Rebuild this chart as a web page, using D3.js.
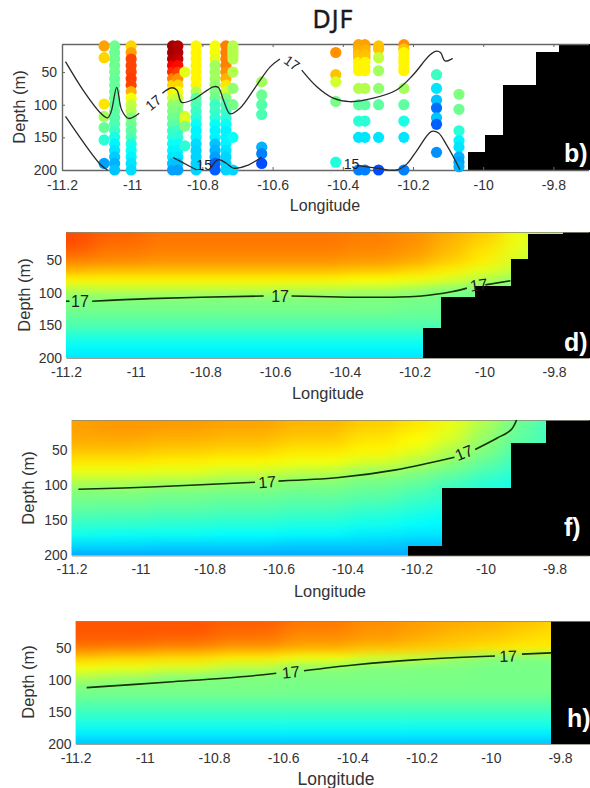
<!DOCTYPE html>
<html>
<head>
<meta charset="utf-8">
<script src="https://cdn.jsdelivr.net/npm/d3@7"></script>
<style>
  html, body { margin: 0; padding: 0; background: #fff; }
  text { font-family: "Liberation Sans", Arial, sans-serif; }
</style>
</head>
<body>
<div id="chart"></div>
<script>
// Data
var lonTicks = [-11.2, -11, -10.8, -10.6, -10.4, -10.2, -10, -9.8];
var depthTicks = [50, 100, 150, 200];

// Temperature -> jet colours
var tempStops = [14, 14.75, 16.25, 17.75, 19.25, 20];
var jetColors = ['#00007f', '#0000ff', '#00ffff', '#ffff00', '#ff0000', '#7f0000'];

// Model sections, one row per depth, one column per longitude
var fieldLons = [-11.2, -11.05, -10.9, -10.7, -10.5, -10.3, -10.2, -10.1, -10, -9.9, -9.8, -9.7];
var fieldDepths = [7, 20, 35, 50, 65, 80, 95, 110, 125, 140, 155, 170, 185, 200];

var fieldD = [
  [18.8, 18.65, 18.55, 18.55, 18.55, 18.5, 18.4, 18.25, 18.05, 17.65, 17.2, 17.2],
  [18.8, 18.65, 18.55, 18.55, 18.55, 18.5, 18.4, 18.2, 18, 17.65, 17.2, 17.2],
  [18.7, 18.55, 18.5, 18.5, 18.5, 18.45, 18.35, 18.15, 17.9, 17.6, 17.2, 17.2],
  [18.5, 18.45, 18.4, 18.4, 18.4, 18.35, 18.25, 18.05, 17.85, 17.5, 17.2, 17.2],
  [18.2, 18.15, 18.15, 18.15, 18.15, 18.1, 18, 17.85, 17.6, 17.4, 17.2, 17.2],
  [17.8, 17.8, 17.8, 17.8, 17.8, 17.75, 17.7, 17.55, 17.3, 17.1, 17, 17],
  [17.35, 17.4, 17.4, 17.4, 17.35, 17.3, 17.2, 17.05, 16.95, 16.9, 16.9, 16.9],
  [17, 17.02, 17.02, 17, 17, 16.98, 16.95, 16.9, 16.85, 16.85, 16.85, 16.85],
  [16.95, 16.95, 16.95, 16.95, 16.95, 16.95, 16.9, 16.9, 16.85, 16.85, 16.85, 16.85],
  [16.8, 16.8, 16.8, 16.8, 16.8, 16.8, 16.8, 16.8, 16.8, 16.8, 16.8, 16.8],
  [16.65, 16.65, 16.65, 16.65, 16.65, 16.65, 16.65, 16.65, 16.65, 16.65, 16.65, 16.65],
  [16.4, 16.4, 16.4, 16.4, 16.4, 16.4, 16.4, 16.4, 16.4, 16.4, 16.4, 16.4],
  [16.22, 16.22, 16.22, 16.22, 16.22, 16.22, 16.22, 16.22, 16.22, 16.22, 16.22, 16.22],
  [16.1, 16.1, 16.1, 16.1, 16.1, 16.1, 16.1, 16.1, 16.1, 16.1, 16.1, 16.1]
];

var fieldF = [
  [18.3, 18.35, 18.35, 18.3, 18.2, 18.05, 17.9, 17.65, 17.3, 16.9, 16.6, 16.5],
  [18.3, 18.35, 18.3, 18.25, 18.15, 18, 17.85, 17.6, 17.2, 16.85, 16.6, 16.5],
  [18.25, 18.25, 18.2, 18.15, 18.05, 17.9, 17.75, 17.5, 17.1, 16.8, 16.6, 16.5],
  [18.1, 18.1, 18.05, 18, 17.9, 17.8, 17.6, 17.3, 17, 16.7, 16.6, 16.5],
  [17.9, 17.9, 17.85, 17.8, 17.7, 17.55, 17.35, 17.1, 16.85, 16.6, 16.5, 16.5],
  [17.65, 17.65, 17.6, 17.5, 17.4, 17.2, 17.05, 16.9, 16.7, 16.5, 16.4, 16.4],
  [17.3, 17.3, 17.25, 17.15, 17.05, 16.95, 16.85, 16.7, 16.5, 16.4, 16.4, 16.4],
  [17.02, 17.02, 16.98, 16.95, 16.9, 16.82, 16.7, 16.55, 16.45, 16.4, 16.4, 16.4],
  [16.9, 16.9, 16.85, 16.8, 16.75, 16.68, 16.55, 16.45, 16.4, 16.4, 16.4, 16.4],
  [16.75, 16.72, 16.7, 16.65, 16.6, 16.5, 16.4, 16.3, 16.3, 16.3, 16.3, 16.3],
  [16.55, 16.55, 16.5, 16.48, 16.42, 16.35, 16.25, 16.2, 16.2, 16.2, 16.2, 16.2],
  [16.35, 16.3, 16.3, 16.25, 16.22, 16.15, 16.1, 16.1, 16.1, 16.1, 16.1, 16.1],
  [16.05, 16.05, 16, 16, 15.95, 15.95, 15.9, 15.9, 15.9, 15.9, 15.9, 15.9],
  [15.75, 15.75, 15.75, 15.75, 15.75, 15.75, 15.75, 15.75, 15.75, 15.75, 15.75, 15.75]
];

var fieldH = [
  [18.75, 18.75, 18.75, 18.7, 18.55, 18.4, 18.3, 18.25, 18.2, 18.1, 18, 18],
  [18.75, 18.75, 18.75, 18.65, 18.5, 18.4, 18.3, 18.2, 18.15, 18.05, 17.95, 17.95],
  [18.7, 18.7, 18.65, 18.55, 18.4, 18.3, 18.2, 18.1, 18.05, 17.95, 17.9, 17.9],
  [18.5, 18.45, 18.4, 18.3, 18.2, 18.1, 18.05, 18, 17.9, 17.85, 17.85, 17.85],
  [18.05, 18, 17.95, 17.85, 17.7, 17.5, 17.4, 17.2, 17.05, 17, 17, 17],
  [17.7, 17.65, 17.55, 17.35, 17.1, 17, 16.98, 16.98, 16.95, 16.95, 16.95, 16.95],
  [17.3, 17.2, 17.05, 17, 16.98, 16.98, 16.98, 16.98, 16.95, 16.95, 16.95, 16.95],
  [17, 16.98, 16.98, 16.98, 16.95, 16.95, 16.95, 16.95, 16.95, 16.95, 16.95, 16.95],
  [16.9, 16.9, 16.9, 16.9, 16.9, 16.9, 16.9, 16.9, 16.9, 16.9, 16.9, 16.9],
  [16.72, 16.72, 16.72, 16.72, 16.72, 16.72, 16.72, 16.72, 16.72, 16.72, 16.72, 16.72],
  [16.55, 16.55, 16.55, 16.55, 16.55, 16.55, 16.55, 16.55, 16.55, 16.55, 16.55, 16.55],
  [16.38, 16.38, 16.38, 16.38, 16.38, 16.38, 16.38, 16.38, 16.38, 16.38, 16.38, 16.38],
  [16.15, 16.15, 16.15, 16.15, 16.15, 16.15, 16.15, 16.15, 16.15, 16.15, 16.15, 16.15],
  [15.9, 15.9, 15.9, 15.9, 15.9, 15.9, 15.9, 15.9, 15.9, 15.9, 15.9, 15.9]
];

// Seabed steps: longitude where each step starts, depth of its top
var shelfLonB = [-10.042, -9.995, -9.945, -9.85, -9.783];
var shelfDepthB = [172, 146, 70, 19, 7];
var shelfLonD = [-10.176, -10.124, -10.027, -9.923, -9.875, -9.774];
var shelfDepthD = [154, 106, 89, 49, 10, 7];
var shelfLonF = [-10.225, -10.125, -9.925, -9.824];
var shelfDepthF = [186, 104, 40, 7];
var shelfLonH = [-9.825];
var shelfDepthH = [7];

// Contour pieces [lon, depth], broken where a label sits
var contourB = [
  [[-11.19, 34], [-11.14, 77.5], [-11.09, 112.7], [-11.07, 120], [-11.06, 110.7], [-11.044, 73.4], [-11.03, 108], [-11.01, 121], [-10.98, 113]],
  [[-10.914, 82.5], [-10.888, 74], [-10.873, 77.5], [-10.859, 96.4], [-10.826, 92], [-10.769, 72.5], [-10.755, 73.4], [-10.74, 93], [-10.721, 114], [-10.693, 105.5], [-10.645, 70], [-10.607, 42], [-10.579, 30]],
  [[-10.517, 47], [-10.474, 72.4], [-10.427, 90], [-10.38, 95.4], [-10.313, 90], [-10.247, 77.5], [-10.2, 54.5], [-10.152, 24], [-10.133, 18], [-10.121, 20.5], [-10.109, 33], [-10.087, 29]],
  [[-11.19, 118], [-11.09, 192], [-11.07, 200]],
  [[-10.883, 181], [-10.816, 200]],
  [[-10.776, 197], [-10.755, 184], [-10.731, 190], [-10.712, 197], [-10.674, 193.4], [-10.631, 180]],
  [[-10.357, 193.4], [-10.304, 197], [-10.247, 200], [-10.218, 191], [-10.19, 171], [-10.147, 141], [-10.128, 143], [-10.104, 162], [-10.08, 185], [-10.066, 200]]
];
var contourD = [
  [[-11.2, 113], [-11.19, 113]],
  [[-11.125, 113], [-10.958, 109], [-10.633, 105]],
  [[-10.553, 105], [-10.31, 107], [-10.18, 105], [-10.094, 98.5], [-10.05, 93]],
  [[-9.997, 88], [-9.925, 81.6]]
];
var contourF = [
  [[-11.18, 105.7], [-10.97, 102.4], [-10.668, 95.7]],
  [[-10.6, 94], [-10.425, 89], [-10.26, 78], [-10.09, 60]],
  [[-10.03, 49], [-9.967, 33], [-9.926, 21], [-9.91, 7]]
];
var contourH = [
  [[-11.168, 111.6], [-10.93, 102.7], [-10.71, 94], [-10.62, 89]],
  [[-10.54, 85], [-10.396, 76], [-10.22, 68], [-9.988, 62]],
  [[-9.91, 59], [-9.825, 57]]
];

// Contour labels: lon, depth, text, angle
var labelsB = [
  [-10.94, 97, '17', -40], [-10.545, 36, '17', 35],
  [-10.795, 193, '15', 0], [-10.375, 191, '15', 0]
];
var labelsD = [[-11.16, 113, '17', 0], [-10.586, 105.5, '17', 0], [-10.016, 88, '17', -8]];
var labelsF = [[-10.633, 95, '17', -4], [-10.063, 53.5, '17', -22]];
var labelsH = [[-10.578, 87, '17', -6], [-9.95, 62, '17', -2]];

// CTD stations of the top panel
var denseDepths = [10, 20, 30, 40, 50, 60, 70, 80, 90, 100, 110, 120, 130, 140, 150, 160, 170, 180, 190, 200];
var stationLons = [-11.08, -11.05, -11.003, -10.885, -10.87, -10.85, -10.818, -10.764, -10.733, -10.713, -10.631, -10.42, -10.355, -10.337, -10.298, -10.226, -10.133, -10.069];
var stationDepths = [
  [10, 28, 99, 118, 135, 154, 190],
  denseDepths,
  denseDepths,
  denseDepths,
  denseDepths,
  [50, 118, 125, 133, 163],
  denseDepths,
  denseDepths,
  denseDepths,
  [10, 15, 20, 25, 30, 50, 75, 100, 150, 200],
  [65, 85, 100, 115, 165, 175, 190],
  [20, 54, 65, 95, 188],
  [8, 12, 16, 20, 24, 28, 35, 42, 48, 75, 100, 125, 150, 200],
  [8, 12, 16, 20, 24, 28, 35, 42, 48, 75, 100, 125, 150, 200],
  [10, 15, 28, 48, 75, 100, 150, 200],
  [8, 15, 20, 28, 35, 42, 48, 75, 100, 125, 150, 200],
  [54, 75, 93, 105, 120, 130, 173],
  [84, 107, 140, 155, 165, 180, 188, 195]
];
var stationTemps = [
  [18.3, 18, 17.9, 17.2, 16.85, 16.5, 15.7],
  [16.9, 16.9, 16.9, 16.9, 16.9, 16.85, 16.85, 16.85, 16.85, 16.8, 16.8, 16.75, 16.7, 16.6, 16.4, 16.2, 16.1, 15.95, 15.8, 15.9],
  [18, 18.3, 18.85, 18.85, 18.85, 18.9, 18.85, 18.2, 17.7, 17.4, 17.3, 17, 16.9, 16.8, 16.7, 16.4, 16.3, 16.2, 16.1, 16.05],
  [19.8, 19.8, 19.7, 19.3, 19, 18.5, 18, 17.8, 17.5, 17.1, 17, 16.9, 16.8, 16.6, 16.5, 16.3, 16.2, 16.1, 15.9, 15.7],
  [19.7, 19.7, 19.6, 19.2, 18.9, 18.4, 18, 17.7, 17.4, 17.1, 17, 16.9, 16.8, 16.6, 16.5, 16.3, 16.2, 16.1, 15.9, 15.7],
  [17.6, 17.5, 17.6, 17, 16.5],
  [17.8, 17.8, 17.8, 17.8, 17.8, 17.8, 17.8, 17.3, 16.8, 16.7, 16.6, 16.5, 16.3, 16.2, 16.2, 16.05, 16, 16, 16, 16],
  [17.7, 17.7, 17.6, 17.2, 17.2, 17.2, 17.1, 17, 16.9, 16.6, 16.6, 16.5, 16.3, 16.2, 16.2, 15.9, 15.8, 15.7, 15.3, 15.3],
  [18.5, 18.5, 18.5, 18.5, 18.4, 18.2, 17.9, 17.5, 17, 16.7, 16.6, 16.5, 16.3, 16.2, 16.2, 16.2, 16.1, 16, 16, 16],
  [17.3, 17.3, 17.3, 17.3, 17.3, 17.3, 17.1, 16.95, 16.3, 16],
  [17.2, 16.9, 16.75, 16.7, 15.8, 15.5, 15.2],
  [18.4, 18.1, 17.5, 16.95, 16.45],
  [18.3, 18.3, 18.2, 18.2, 18.1, 18.1, 17.8, 17.8, 17.8, 17.3, 16.8, 16.5, 16.1, 15.5],
  [18.3, 18.3, 18.2, 18.2, 18.1, 18.1, 17.8, 17.8, 17.8, 17.3, 16.8, 16.5, 16.1, 15.5],
  [18.1, 18.1, 17.4, 17.2, 17.1, 16.8, 16.1, 15.2],
  [18.4, 18.1, 17.8, 17.8, 17.8, 17.8, 17.8, 17.2, 16.8, 16.4, 16.1, 15.5],
  [16.6, 16.1, 15.9, 15.4, 15.9, 15.3, 15.6],
  [17, 16.9, 16.5, 16.2, 16.1, 15.8, 15.7, 15.8]
];

// Variables
var svgW = 590;
var svgH = 788;
var lonDomain = [-11.2, -9.7];
var depthDomain = [7, 200];

var color = d3.scaleLinear().domain(tempStops).range(jetColors).clamp(true);

var svg = d3.select('#chart')
  .append('svg')
  .attr('width', svgW)
  .attr('height', svgH)
  .style('display', 'block');

var defs = svg.append('defs');
var fieldBlur = defs.append('filter').attr('id', 'fieldBlur')
  .attr('color-interpolation-filters', 'sRGB')
  .attr('x', '-10%').attr('y', '-20%').attr('width', '120%').attr('height', '140%');
fieldBlur.append('feGaussianBlur').attr('stdDeviation', '11 4.5');
var dotBlur = defs.append('filter').attr('id', 'dotBlur')
  .attr('color-interpolation-filters', 'sRGB')
  .attr('x', '-5%').attr('y', '-5%').attr('width', '110%').attr('height', '110%');
dotBlur.append('feGaussianBlur').attr('stdDeviation', '0.6');
var softBlur = defs.append('filter').attr('id', 'softBlur')
  .attr('color-interpolation-filters', 'sRGB')
  .attr('x', '-5%').attr('y', '-20%').attr('width', '110%').attr('height', '140%');
softBlur.append('feGaussianBlur').attr('stdDeviation', '0.4');

svg.append('text')
  .attr('x', 333)
  .attr('y', 28)
  .attr('text-anchor', 'middle')
  .style('font-family', '"Noto Sans", sans-serif')
  .style('font-size', '25px')
  .style('letter-spacing', '1px')
  .attr('fill', '#1a1a1a')
  .attr('stroke', '#1a1a1a')
  .attr('stroke-width', 0.4)
  .text('DJF');

function drawPanel(p) {
  var right = p.left + (lonDomain[1] - lonDomain[0]) * p.pxPerDeg;
  var x = d3.scaleLinear().domain(lonDomain).range([p.left, right]);
  var y = d3.scaleLinear().domain(depthDomain).range([p.top, p.bottom]);

  var clipId = 'clip-' + p.letter;
  defs.append('clipPath').attr('id', clipId)
    .append('rect')
    .attr('x', p.left).attr('y', p.top)
    .attr('width', right - p.left).attr('height', p.bottom - p.top);

  var g = svg.append('g');

  // Temperature section
  if (p.field) {
    var cells = [];
    p.field.forEach(function (row, r) {
      row.forEach(function (t, c) {
        cells.push({ r: r, c: c, t: t });
      });
    });
    function edge(list, i, scale, pad) {
      if (i < 0) return scale(list[0]) - pad;
      if (i >= list.length - 1) return scale(list[list.length - 1]) + pad;
      return (scale(list[i]) + scale(list[i + 1])) / 2;
    }
    g.append('g').attr('clip-path', 'url(#' + clipId + ')')
      .append('g').attr('filter', 'url(#fieldBlur)')
      .selectAll('rect')
      .data(cells)
      .enter()
      .append('rect')
      .attr('x', d => edge(fieldLons, d.c - 1, x, 40))
      .attr('y', d => edge(fieldDepths, d.r - 1, y, 25))
      .attr('width', d => edge(fieldLons, d.c, x, 40) - edge(fieldLons, d.c - 1, x, 40) + 0.5)
      .attr('height', d => edge(fieldDepths, d.r, y, 25) - edge(fieldDepths, d.r - 1, y, 25) + 0.5)
      .attr('fill', d => color(d.t));
  }

  // Seabed
  g.append('g').selectAll('rect')
    .data(p.shelfLon)
    .enter()
    .append('rect')
    .attr('x', d => x(d))
    .attr('y', (d, i) => y(p.shelfDepth[i]))
    .attr('width', (d, i) => x(i + 1 < p.shelfLon.length ? p.shelfLon[i + 1] : lonDomain[1]) - x(d) + 2)
    .attr('height', (d, i) => y(depthDomain[1]) - y(p.shelfDepth[i]))
    .attr('shape-rendering', 'crispEdges')
    .attr('fill', '#000');

  // Axes
  var xAxis = d3.axisBottom(x).tickValues(lonTicks).tickFormat(d => d)
    .tickSizeInner(-3).tickSizeOuter(0).tickPadding(p.stations ? 10 : 9);
  var yAxis = d3.axisLeft(y).tickValues(depthTicks).tickFormat(d => d)
    .tickSizeInner(p.stations ? -3 : 0).tickSizeOuter(0).tickPadding(p.stations ? 5 : 4);
  var axisColor = p.stations ? '#666' : '#8a8a78';
  var axisWidth = p.stations ? 1.4 : 0.8;

  var gx = g.append('g').attr('transform', 'translate(0,' + p.bottom + ')').call(xAxis);
  var gy = g.append('g').attr('transform', 'translate(' + p.left + ',0)').call(yAxis);
  var gt = g.append('g').attr('transform', 'translate(0,' + p.top + ')')
    .call(d3.axisTop(x).tickValues(lonTicks).tickFormat('').tickSizeInner(-3).tickSizeOuter(0));

  [gx, gy, gt].forEach(function (a) {
    a.selectAll('.domain').attr('stroke', axisColor).attr('stroke-width', axisWidth);
    a.selectAll('.tick line').attr('stroke', axisColor)
      .style('display', p.stations ? null : 'none');
    a.selectAll('text')
      .style('font-family', '"Liberation Sans", Arial, sans-serif')
      .style('font-size', '14px')
      .attr('fill', '#333');
  });
  if (!p.stations) gy.select('.domain').attr('stroke', 'none');

  // Axis titles
  g.append('text')
    .attr('x', p.xTitleX).attr('y', p.xTitleY)
    .attr('text-anchor', 'middle')
    .style('font-size', p.xTitleSize + 'px')
    .attr('fill', '#333')
    .text('Longitude');
  g.append('text')
    .attr('transform', 'translate(' + p.yTitleX + ',' + p.yTitleY + ') rotate(-90)')
    .attr('text-anchor', 'middle')
    .style('font-size', '16.5px')
    .attr('fill', '#333')
    .text('Depth (m)');

  // Stations
  if (p.stations) {
    var dots = [];
    stationLons.forEach(function (lon, s) {
      stationDepths[s].forEach(function (depth, k) {
        dots.push({ lon: lon, depth: depth, t: stationTemps[s][k] });
      });
    });
    g.append('g').attr('filter', 'url(#dotBlur)')
      .selectAll('circle')
      .data(dots)
      .enter()
      .append('circle')
      .attr('cx', d => x(d.lon))
      .attr('cy', d => y(d.depth))
      .attr('r', 5.6)
      .attr('fill', d => color(d.t));
  }

  // Contour
  var line = d3.line()
    .x(d => x(d[0]))
    .y(d => y(d[1]))
    .curve(d3.curveCatmullRom.alpha(0.5));

  g.append('g').attr('filter', 'url(#softBlur)')
    .selectAll('path')
    .data(p.contour)
    .enter()
    .append('path')
    .attr('d', line)
    .attr('fill', 'none')
    .attr('stroke', p.stations ? '#2a2a2a' : '#143200')
    .attr('stroke-width', p.stations ? 1.3 : 1.6);

  g.selectAll('text.clabel')
    .data(p.labels)
    .enter()
    .append('text')
    .attr('class', 'clabel')
    .attr('transform', d => 'translate(' + x(d[0]) + ',' + y(d[1]) + ') rotate(' + d[3] + ')')
    .attr('text-anchor', 'middle')
    .attr('dy', '0.36em')
    .style('font-size', p.stations ? '14px' : '16px')
    .attr('fill', '#1c1c1c')
    .text(d => d[2]);

  // Panel letter
  g.append('text')
    .attr('x', p.letterX).attr('y', p.letterY)
    .style('font-size', '25px')
    .style('font-weight', 'bold')
    .attr('fill', '#fff')
    .text(p.letter + ')');
}

drawPanel({
  letter: 'b', left: 62, pxPerDeg: 351, top: 44, bottom: 170,
  stations: true, shelfLon: shelfLonB, shelfDepth: shelfDepthB,
  contour: contourB, labels: labelsB,
  xTitleX: 325, xTitleY: 211, xTitleSize: 16, yTitleX: 25, yTitleY: 107, letterX: 564, letterY: 162
});
drawPanel({
  letter: 'd', left: 66, pxPerDeg: 348.6, top: 232, bottom: 358,
  field: fieldD, shelfLon: shelfLonD, shelfDepth: shelfDepthD,
  contour: contourD, labels: labelsD,
  xTitleX: 328, xTitleY: 399, xTitleSize: 16.4, yTitleX: 30, yTitleY: 295, letterX: 564, letterY: 351
});
drawPanel({
  letter: 'f', left: 71.5, pxPerDeg: 345, top: 420, bottom: 555.5,
  field: fieldF, shelfLon: shelfLonF, shelfDepth: shelfDepthF,
  contour: contourF, labels: labelsF,
  xTitleX: 330, xTitleY: 597, xTitleSize: 16.4, yTitleX: 34, yTitleY: 488, letterX: 564, letterY: 536
});
drawPanel({
  letter: 'h', left: 75.6, pxPerDeg: 346, top: 621, bottom: 744,
  field: fieldH, shelfLon: shelfLonH, shelfDepth: shelfDepthH,
  contour: contourH, labels: labelsH,
  xTitleX: 336, xTitleY: 785, xTitleSize: 17.5, yTitleX: 34, yTitleY: 682, letterX: 567, letterY: 727
});
</script>
</body>
</html>
